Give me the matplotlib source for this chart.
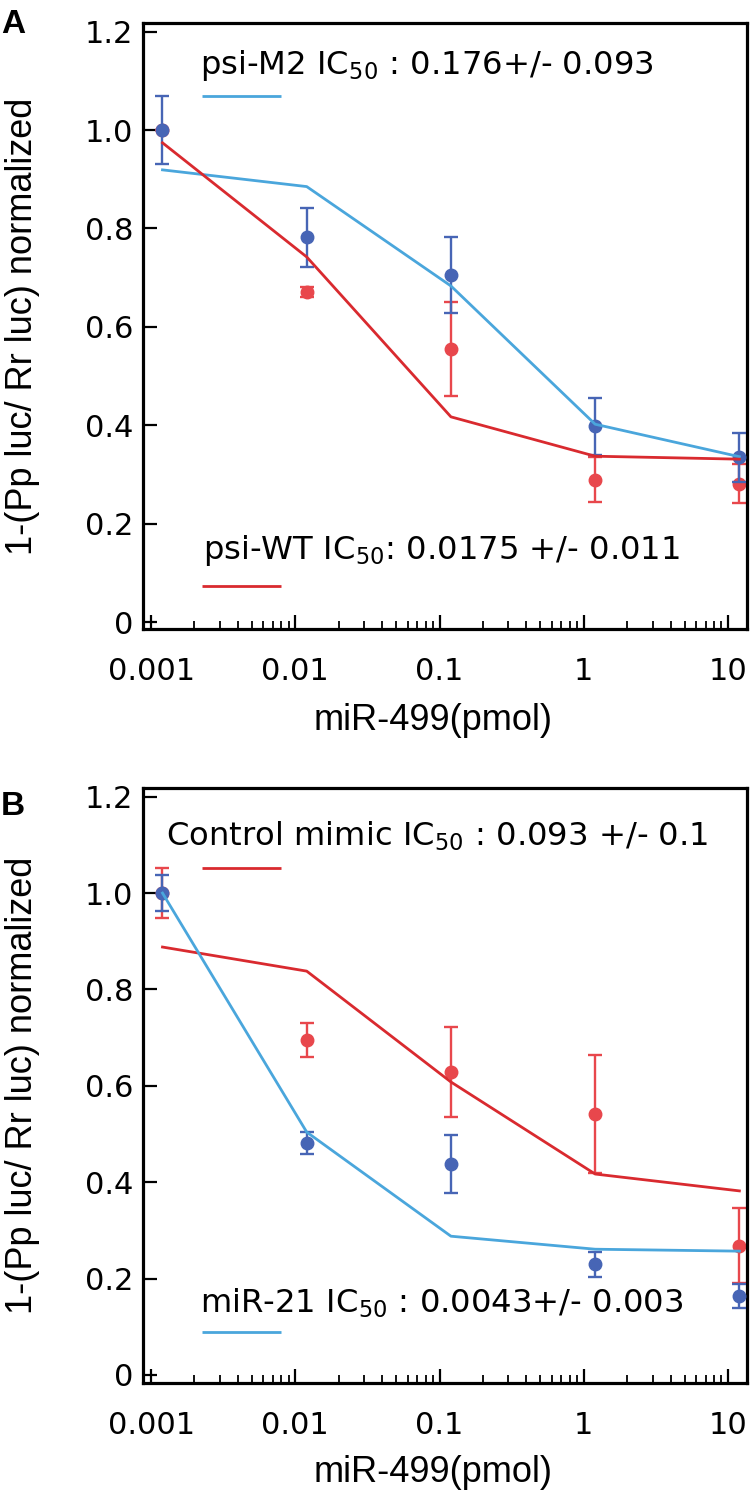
import numpy as np
import matplotlib
matplotlib.use("Agg")
import matplotlib.pyplot as plt
from matplotlib.ticker import FixedLocator, FixedFormatter, NullLocator

# ---------------- data ----------------
conc = [0.0012, 0.012, 0.12, 1.2, 12]

# Panel A
psiM2_mean = [1.0, 0.782, 0.705, 0.398, 0.335]
psiM2_err = [0.07, 0.06, 0.077, 0.058, 0.05]
psiM2_fit = [0.919, 0.885, 0.683, 0.402, 0.336]
psiWT_mean = [1.0, 0.67, 0.555, 0.289, 0.281]
psiWT_err = [0.0, 0.01, 0.095, 0.046, 0.04]
psiWT_fit = [0.974, 0.742, 0.417, 0.337, 0.331]

# Panel B
miR21_mean = [1.0, 0.481, 0.438, 0.23, 0.164]
miR21_err = [0.038, 0.023, 0.061, 0.026, 0.025]
miR21_fit = [1.0, 0.504, 0.288, 0.261, 0.257]
ctrl_mean = [1.0, 0.695, 0.629, 0.541, 0.268]
ctrl_err = [0.051, 0.035, 0.094, 0.122, 0.078]
ctrl_fit = [0.888, 0.838, 0.608, 0.417, 0.382]

xticks = [0.001, 0.01, 0.1, 1, 10]
xticklabels = ["0.001", "0.01", "0.1", "1", "10"]
yticks = [0, 0.2, 0.4, 0.6, 0.8, 1.0, 1.2]
yticklabels = ["0", "0.2", "0.4", "0.6", "0.8", "1.0", "1.2"]

labelA_top = r"psi-M2 IC$_{\mathregular{50}}$ : 0.176+/- 0.093"
labelA_bot = r"psi-WT IC$_{\mathregular{50}}$: 0.0175 +/- 0.011"
labelB_top = r"Control mimic IC$_{\mathregular{50}}$ : 0.093 +/- 0.1"
labelB_bot = r"miR-21 IC$_{\mathregular{50}}$ : 0.0043+/- 0.003"

# ---------------- style ----------------
plt.rcParams['font.family'] = ['DejaVu Sans']
plt.rcParams['mathtext.fontset'] = 'dejavusans'

DARKBLUE = '#4765b5'
LIGHTBLUE = '#4aa6dc'
RED_LINE = '#d92a2f'
RED_PT = '#e8474c'

W, H = 750, 1495
fig = plt.figure(figsize=(W / 100, H / 100), dpi=100)


def px_axes(left, top, right, bottom):
    return fig.add_axes([left / W, 1 - bottom / H, (right - left) / W, (bottom - top) / H])


axA = px_axes(143, 23, 747, 629)
axB = px_axes(143, 788, 747, 1383)

minor_pos = [m * 10.0 ** e for e in range(-3, 1) for m in range(2, 10)]


def style_axes(ax, ylim):
    ax.set_xscale('log')
    ax.set_xlim(10 ** -3.056, 10 ** 1.132)
    ax.set_ylim(*ylim)
    ax.xaxis.set_major_locator(FixedLocator(xticks))
    ax.xaxis.set_major_formatter(FixedFormatter(xticklabels))
    ax.xaxis.set_minor_locator(FixedLocator(minor_pos))
    ax.xaxis.set_minor_formatter(FixedFormatter([""] * len(minor_pos)))
    ax.yaxis.set_major_locator(FixedLocator(yticks))
    ax.yaxis.set_major_formatter(FixedFormatter(yticklabels))
    ax.yaxis.set_minor_locator(NullLocator())
    ax.tick_params(axis='both', which='major', direction='in', length=10, width=1.6,
                   labelsize=22, top=False, right=False, colors='black')
    ax.tick_params(axis='x', which='major', pad=20)
    ax.tick_params(axis='y', which='major', pad=7)
    ax.tick_params(axis='x', which='minor', direction='in', length=5.5, width=1.3,
                   top=False)
    for sp in ax.spines.values():
        sp.set_linewidth(2.3)
        sp.set_color('black')
    ax.text(0.48, -0.1667, "miR-499(pmol)", transform=ax.transAxes, ha='center',
            va='baseline', fontsize=26, family=['Liberation Sans'])
    ax.text(-0.2003, 0.5, "1-(Pp luc/ Rr luc) normalized", transform=ax.transAxes,
            ha='center', va='center', rotation=90, fontsize=26,
            family=['Liberation Sans'])


def errpts(ax, y, e, color, z):
    ax.errorbar(conc, y, yerr=e, fmt='o', color=color, ecolor=color, markersize=9,
                elinewidth=1.7, capsize=4.7, capthick=1.7, zorder=z)


def legline(ax, y, color):
    ax.plot([0.0977, 0.2285], [y, y], transform=ax.transAxes, color=color, lw=2.0,
            solid_capstyle='butt', clip_on=False)


ANN = 23.2

# ---------------- Panel A ----------------
style_axes(axA, (-0.0142, 1.2175))
errpts(axA, psiWT_mean, psiWT_err, RED_PT, 2)
errpts(axA, psiM2_mean, psiM2_err, DARKBLUE, 3)
axA.plot(conc, psiM2_fit, color=LIGHTBLUE, lw=2.0, zorder=4)
axA.plot(conc, psiWT_fit, color=RED_LINE, lw=2.0, zorder=4)
axA.text(0.0944, 0.9158, labelA_top, transform=axA.transAxes, ha='left', va='baseline',
         fontsize=ANN)
legline(axA, 0.8795, LIGHTBLUE)
axA.text(0.0993, 0.1155, labelA_bot, transform=axA.transAxes, ha='left', va='baseline',
         fontsize=ANN)
legline(axA, 0.0710, RED_LINE)

# ---------------- Panel B ----------------
style_axes(axB, (-0.0166, 1.218))
errpts(axB, ctrl_mean, ctrl_err, RED_PT, 2)
errpts(axB, miR21_mean, miR21_err, DARKBLUE, 3)
axB.plot(conc, ctrl_fit, color=RED_LINE, lw=2.0, zorder=4)
axB.plot(conc, miR21_fit, color=LIGHTBLUE, lw=2.0, zorder=4)
axB.text(0.0381, 0.9025, labelB_top, transform=axB.transAxes, ha='left', va='baseline',
         fontsize=ANN)
legline(axB, 0.8655, RED_LINE)
axB.text(0.0944, 0.1176, labelB_bot, transform=axB.transAxes, ha='left', va='baseline',
         fontsize=ANN)
legline(axB, 0.0857, LIGHTBLUE)

# panel letters
fig.text(1 / W, 1 - 33 / H, "A", fontsize=24, fontweight='bold', ha='left', va='baseline',
         family=['Liberation Sans'])
fig.text(1 / W, 1 - 815 / H, "B", fontsize=24, fontweight='bold', ha='left', va='baseline',
         family=['Liberation Sans'])

fig.savefig("out.png", dpi=100)
